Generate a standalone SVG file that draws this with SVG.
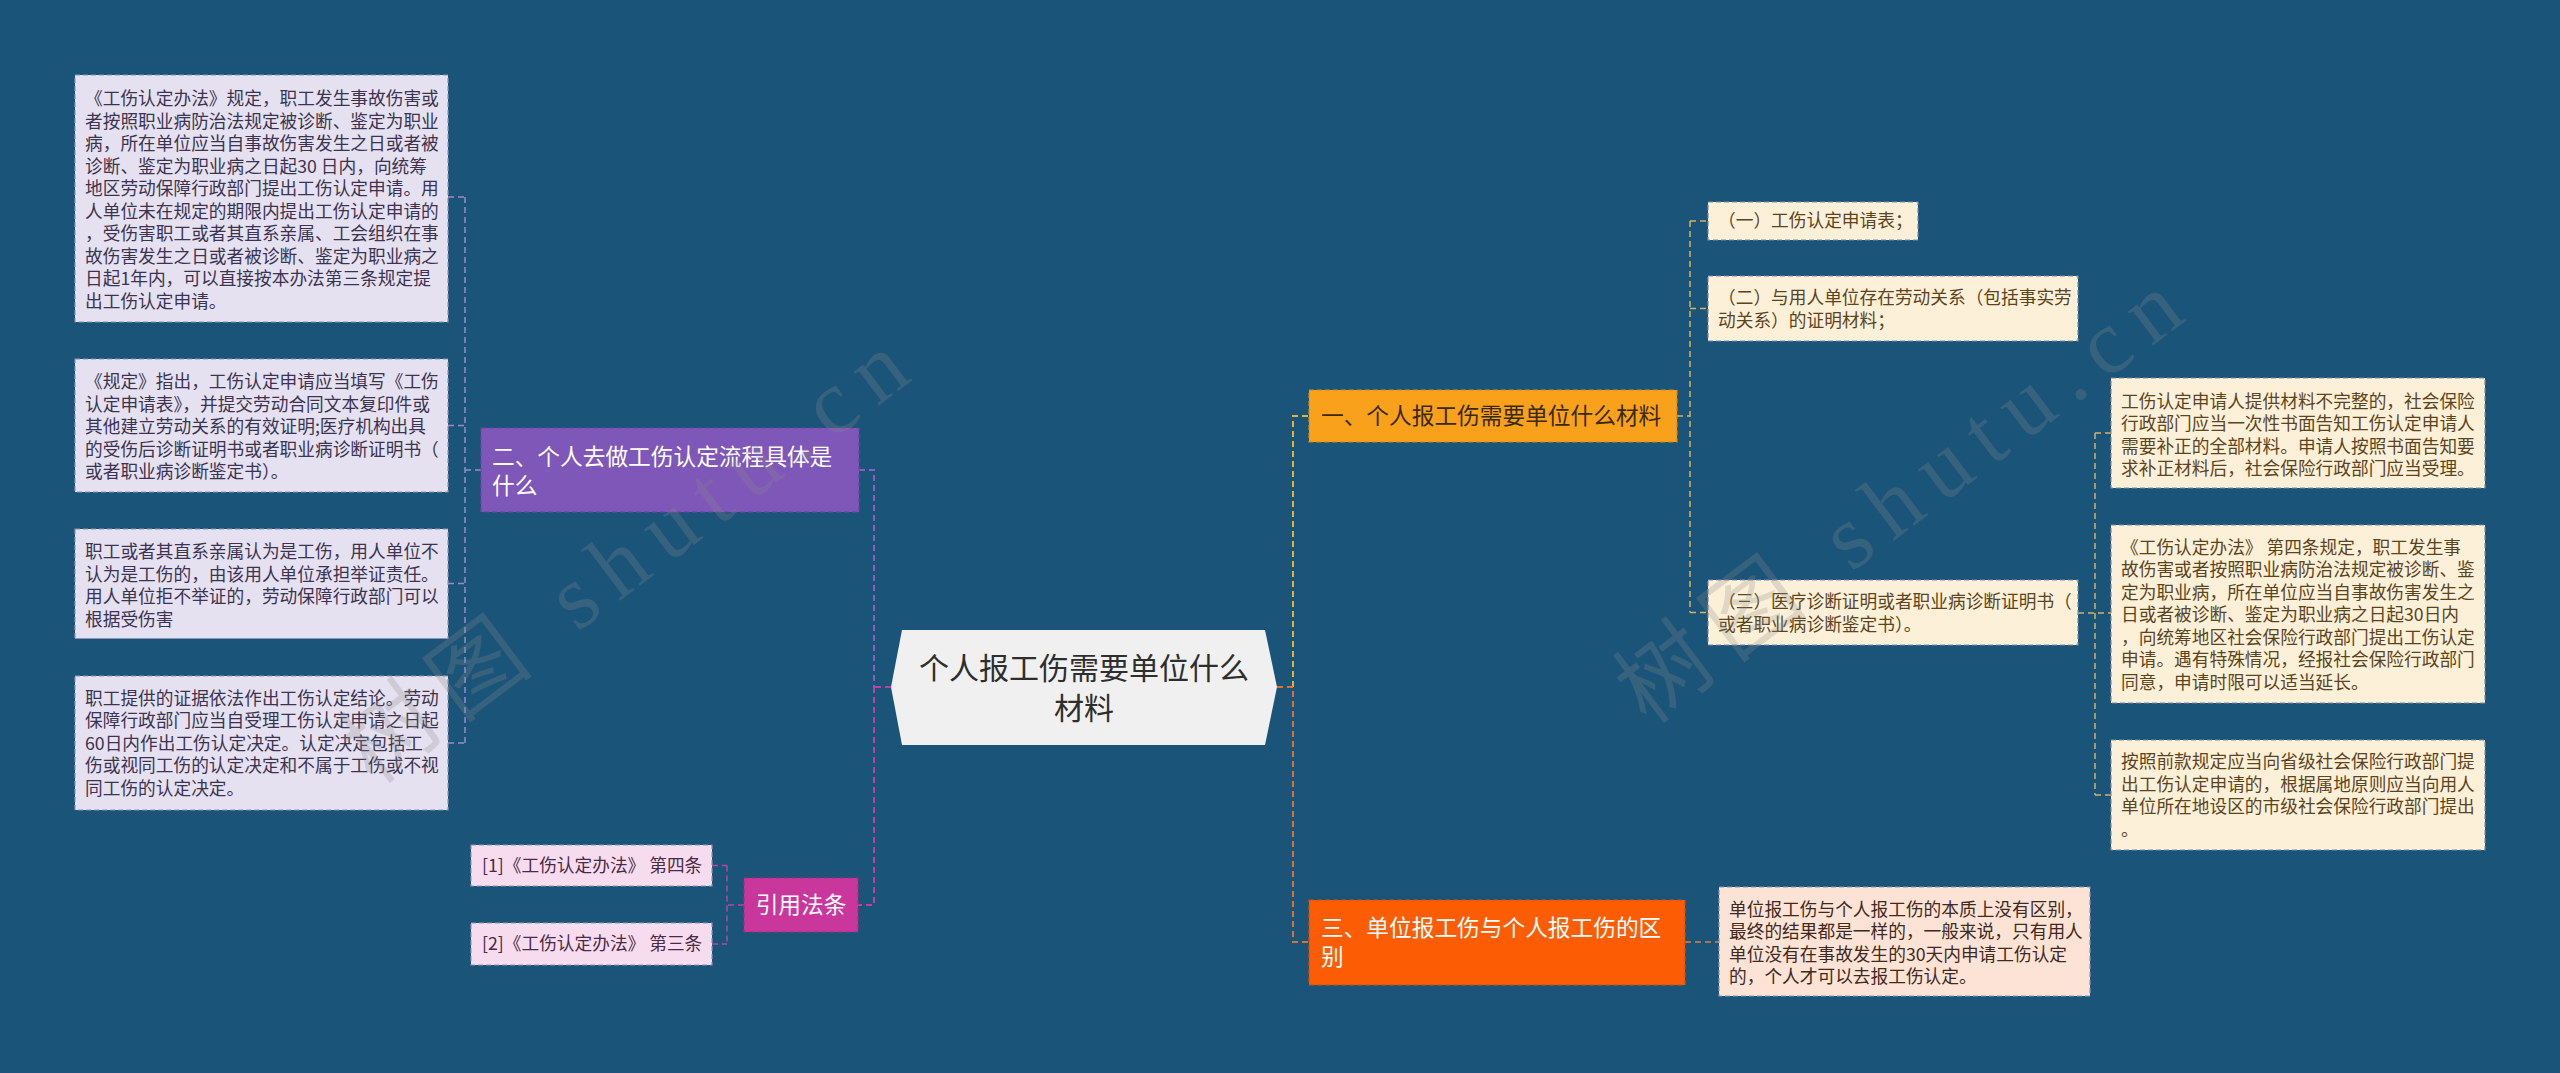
<svg xmlns="http://www.w3.org/2000/svg" width="2560" height="1073" viewBox="0 0 2560 1073">
<style>
text{font-family:"Noto Sans CJK SC","Noto Sans",sans-serif}
.s{font-size:17.7px}
.m{font-size:22.7px}
.c{font-size:30px}
.wm{font-family:"Liberation Serif","Noto Sans CJK SC",serif;font-size:92px;letter-spacing:16px;fill:#8c8c8c;opacity:0.25}
.bl{fill:#e5e1f0;stroke:#8a96b4;stroke-width:1.2;stroke-dasharray:5 3}
.br{fill:#fdf0d8;stroke:#7d8aa0;stroke-width:1.2;stroke-dasharray:5 3}
.bp{fill:#f7dcef;stroke:#8a96b4;stroke-width:1.2;stroke-dasharray:5 3}
.bo{fill:#fde3d6;stroke:#8a96b4;stroke-width:1.2;stroke-dasharray:5 3}
.tl{fill:#3c3350}
.tr{fill:#5b4420}
.tp{fill:#4a2a45}
.to{fill:#3e2a20}
.k{fill:none;stroke-width:2;stroke-dasharray:6 4}
.k1{fill:none;stroke-width:1.5;stroke-dasharray:6 4}
</style>
<rect class="bg" x="0" y="0" width="2560" height="1073" fill="#1a5479"/>

<g id="connectors">
<path class="k1" stroke="#9a8cc8" d="M465,197 V743 M448,197 H465 M448,425.5 H465 M448,583.5 H465 M448,743 H465 M465,470 H481"/>
<path class="k" stroke="#8e5dc4" d="M859,470 H874 V687"/>
<path class="k" stroke="#c23fa2" d="M874,687 V905 H858 M891,687 H874"/>
<path class="k1" stroke="#b04aa0" d="M744,905 H727 M727,865.5 V944 M712,865.5 H727 M712,944 H727"/>
<path class="k" stroke="#e8b030" d="M1293,687 V416 H1309"/>
<path class="k" stroke="#e07030" d="M1277,687 H1293 V942 H1309"/>
<path class="k1" stroke="#d8b060" d="M1677,416 H1690 M1690,221 V612.5 M1690,221 H1708 M1690,308.5 H1708 M1690,612.5 H1708"/>
<path class="k1" stroke="#d8b060" d="M2078,613 H2111 M2095,433 V795 M2095,433 H2111 M2095,795 H2111"/>
<path class="k1" stroke="#e08040" d="M1685,942 H1719"/>
</g>

<g id="center">
<polygon points="891,687 902,630 1265,630 1277,687 1265,745 902,745" fill="#f0f0f0"/>
<text class="c" fill="#2e2e2e" text-anchor="middle" x="1084" y="679">个人报工伤需要单位什么<tspan x="1084" dy="40">材料</tspan></text>
</g>

<g id="n2">
<rect x="481" y="428" width="378" height="84" fill="#7e57b8" stroke="#6a46a4" stroke-width="1.2" stroke-dasharray="5 3"/>
<text class="m" fill="#ffffff" x="492" y="465">二、个人去做工伤认定流程具体是<tspan x="492" dy="28.5">什么</tspan></text>
</g>

<g id="n2c1">
<rect class="bl" x="75" y="75" width="373" height="247"/>
<text class="s tl" x="85" y="105.4">《工伤认定办法》规定，职工发生事故伤害或<tspan x="85" dy="22.5">者按照职业病防治法规定被诊断、鉴定为职业</tspan><tspan x="85" dy="22.5">病，所在单位应当自事故伤害发生之日或者被</tspan><tspan x="85" dy="22.5">诊断、鉴定为职业病之日起30 日内，向统筹</tspan><tspan x="85" dy="22.5">地区劳动保障行政部门提出工伤认定申请。用</tspan><tspan x="85" dy="22.5">人单位未在规定的期限内提出工伤认定申请的</tspan><tspan x="85" dy="22.5">，受伤害职工或者其直系亲属、工会组织在事</tspan><tspan x="85" dy="22.5">故伤害发生之日或者被诊断、鉴定为职业病之</tspan><tspan x="85" dy="22.5">日起1年内，可以直接按本办法第三条规定提</tspan><tspan x="85" dy="22.5">出工伤认定申请。</tspan></text>
</g>

<g id="n2c2">
<rect class="bl" x="75" y="359" width="373" height="133"/>
<text class="s tl" x="85" y="388.4">《规定》指出，工伤认定申请应当填写《工伤<tspan x="85" dy="22.5">认定申请表》，并提交劳动合同文本复印件或</tspan><tspan x="85" dy="22.5">其他建立劳动关系的有效证明;医疗机构出具</tspan><tspan x="85" dy="22.5">的受伤后诊断证明书或者职业病诊断证明书（</tspan><tspan x="85" dy="22.5">或者职业病诊断鉴定书）。</tspan></text>
</g>

<g id="n2c3">
<rect class="bl" x="75" y="529" width="373" height="109.5"/>
<text class="s tl" x="85" y="558.4">职工或者其直系亲属认为是工伤，用人单位不<tspan x="85" dy="22.5">认为是工伤的，由该用人单位承担举证责任。</tspan><tspan x="85" dy="22.5">用人单位拒不举证的，劳动保障行政部门可以</tspan><tspan x="85" dy="22.5">根据受伤害</tspan></text>
</g>

<g id="n2c4">
<rect class="bl" x="75" y="676" width="373" height="134"/>
<text class="s tl" x="85" y="704.9">职工提供的证据依法作出工伤认定结论。劳动<tspan x="85" dy="22.5">保障行政部门应当自受理工伤认定申请之日起</tspan><tspan x="85" dy="22.5">60日内作出工伤认定决定。认定决定包括工</tspan><tspan x="85" dy="22.5">伤或视同工伤的认定决定和不属于工伤或不视</tspan><tspan x="85" dy="22.5">同工伤的认定决定。</tspan></text>
</g>

<g id="ref">
<rect x="744" y="878" width="114" height="54" fill="#c9379d" stroke="#a8287f" stroke-width="1.2" stroke-dasharray="5 3"/>
<text class="m" fill="#ffffff" text-anchor="middle" x="801" y="913">引用法条</text>
</g>
<g id="ref1">
<rect class="bp" x="471" y="845" width="241" height="41"/>
<text class="s tp" x="482" y="871.9">[1]《工伤认定办法》 第四条</text>
</g>
<g id="ref2">
<rect class="bp" x="471" y="923" width="241" height="42"/>
<text class="s tp" x="482" y="950.4">[2]《工伤认定办法》 第三条</text>
</g>

<g id="n1">
<rect x="1309" y="390" width="368" height="52" fill="#f9a11b" stroke="#d08a10" stroke-width="1.2" stroke-dasharray="5 3"/>
<text class="m" fill="#3a2a0c" x="1321" y="424">一、个人报工伤需要单位什么材料</text>
</g>
<g id="n1c1">
<rect class="br" x="1708" y="202" width="210" height="38"/>
<text class="s tr" x="1718" y="227.4">（一）工伤认定申请表；</text>
</g>
<g id="n1c2">
<rect class="br" x="1708" y="276" width="370" height="65"/>
<text class="s tr" x="1718" y="304.4">（二）与用人单位存在劳动关系（包括事实劳<tspan x="1718" dy="22.5">动关系）的证明材料；</tspan></text>
</g>
<g id="n1c3">
<rect class="br" x="1708" y="580" width="370" height="65"/>
<text class="s tr" x="1718" y="608.4">（三）医疗诊断证明或者职业病诊断证明书（<tspan x="1718" dy="22.5">或者职业病诊断鉴定书）。</tspan></text>
</g>
<g id="gc1">
<rect class="br" x="2111" y="378" width="374" height="110"/>
<text class="s tr" x="2121" y="407.9">工伤认定申请人提供材料不完整的，社会保险<tspan x="2121" dy="22.5">行政部门应当一次性书面告知工伤认定申请人</tspan><tspan x="2121" dy="22.5">需要补正的全部材料。申请人按照书面告知要</tspan><tspan x="2121" dy="22.5">求补正材料后，社会保险行政部门应当受理。</tspan></text>
</g>
<g id="gc2">
<rect class="br" x="2111" y="525" width="374" height="178"/>
<text class="s tr" x="2121" y="553.9">《工伤认定办法》 第四条规定，职工发生事<tspan x="2121" dy="22.5">故伤害或者按照职业病防治法规定被诊断、鉴</tspan><tspan x="2121" dy="22.5">定为职业病，所在单位应当自事故伤害发生之</tspan><tspan x="2121" dy="22.5">日或者被诊断、鉴定为职业病之日起30日内</tspan><tspan x="2121" dy="22.5">，向统筹地区社会保险行政部门提出工伤认定</tspan><tspan x="2121" dy="22.5">申请。遇有特殊情况，经报社会保险行政部门</tspan><tspan x="2121" dy="22.5">同意，申请时限可以适当延长。</tspan></text>
</g>
<g id="gc3">
<rect class="br" x="2111" y="740" width="374" height="110"/>
<text class="s tr" x="2121" y="768.4">按照前款规定应当向省级社会保险行政部门提<tspan x="2121" dy="22.5">出工伤认定申请的，根据属地原则应当向用人</tspan><tspan x="2121" dy="22.5">单位所在地设区的市级社会保险行政部门提出</tspan><tspan x="2121" dy="22.5">。</tspan></text>
</g>

<g id="n3">
<rect x="1309" y="900" width="376" height="85" fill="#fc5c04" stroke="#d84a00" stroke-width="1.2" stroke-dasharray="5 3"/>
<text class="m" fill="#ffffff" x="1321" y="936">三、单位报工伤与个人报工伤的区<tspan x="1321" dy="29">别</tspan></text>
</g>
<g id="n3c1">
<rect class="bo" x="1719" y="887" width="371" height="109"/>
<text class="s to" x="1729" y="915.9">单位报工伤与个人报工伤的本质上没有区别，<tspan x="1729" dy="22.5">最终的结果都是一样的，一般来说，只有用人</tspan><tspan x="1729" dy="22.5">单位没有在事故发生的30天内申请工伤认定</tspan><tspan x="1729" dy="22.5">的，个人才可以去报工伤认定。</tspan></text>
</g>

<g id="watermark">
<text class="wm" text-anchor="middle" transform="translate(650,578) rotate(-37)">树图 shutu.cn</text>
<text class="wm" text-anchor="middle" transform="translate(1924,518) rotate(-37)">树图 shutu.cn</text>
</g>
</svg>
